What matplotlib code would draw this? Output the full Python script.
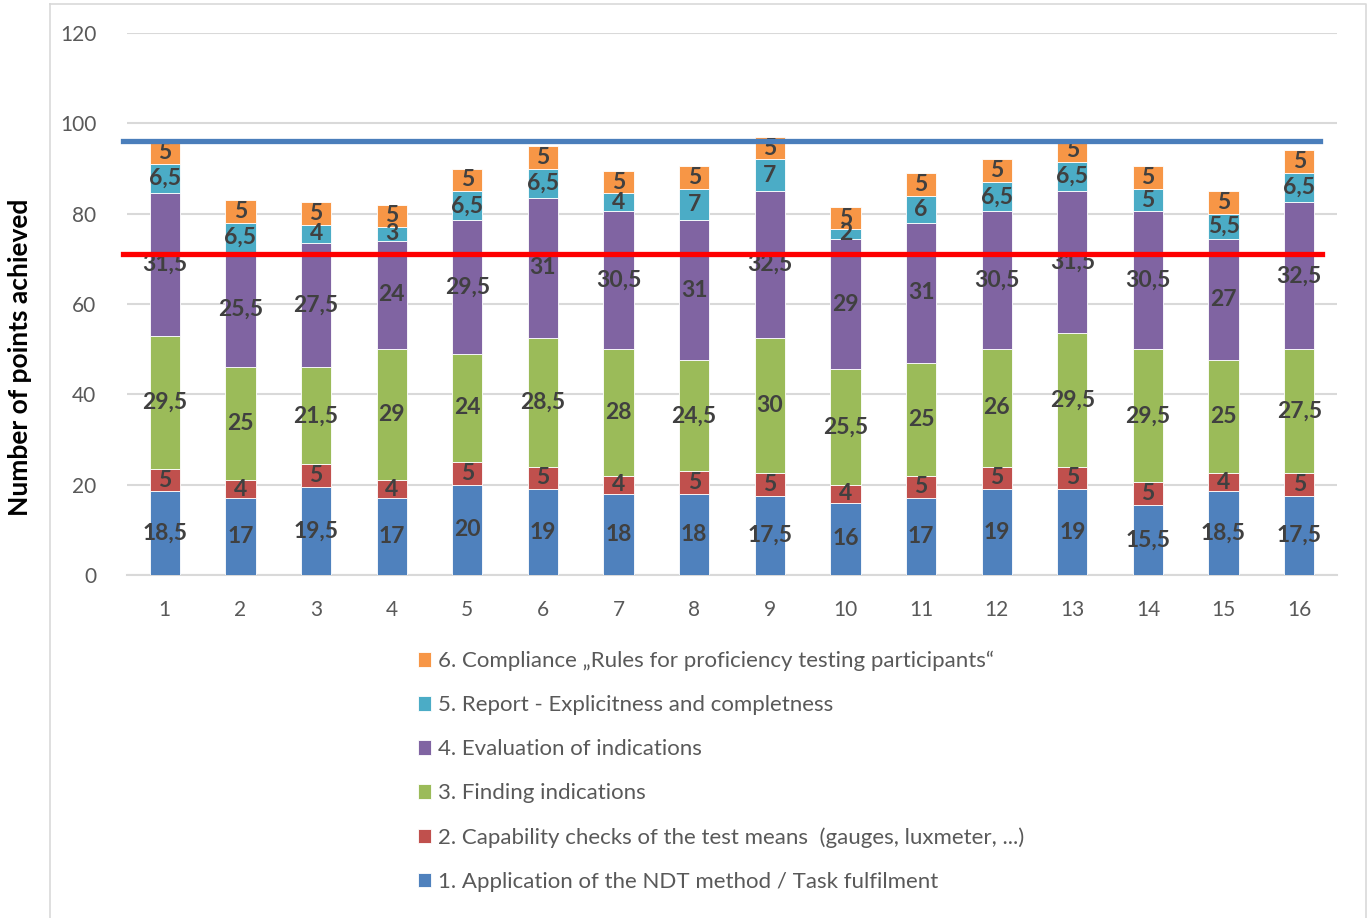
import matplotlib
matplotlib.use("Agg")
import matplotlib.pyplot as plt
from matplotlib.lines import Line2D
import numpy as np

plt.rcParams['font.family'] = ['Lato', 'DejaVu Sans']

categories = [str(i) for i in range(1, 17)]
s1 = [18.5, 17, 19.5, 17, 20, 19, 18, 18, 17.5, 16, 17, 19, 19, 15.5, 18.5, 17.5]
s2 = [5, 4, 5, 4, 5, 5, 4, 5, 5, 4, 5, 5, 5, 5, 4, 5]
s3 = [29.5, 25, 21.5, 29, 24, 28.5, 28, 24.5, 30, 25.5, 25, 26, 29.5, 29.5, 25, 27.5]
s4 = [31.5, 25.5, 27.5, 24, 29.5, 31, 30.5, 31, 32.5, 29, 31, 30.5, 31.5, 30.5, 27, 32.5]
s5 = [6.5, 6.5, 4, 3, 6.5, 6.5, 4, 7, 7, 2, 6, 6.5, 6.5, 5, 5.5, 6.5]
s6 = [5, 5, 5, 5, 5, 5, 5, 5, 5, 5, 5, 5, 5, 5, 5, 5]
series_names = [
    "1. Application of the NDT method / Task fulfilment",
    "2. Capability checks of the test means  (gauges, luxmeter, ...)",
    "3. Finding indications",
    "4. Evaluation of indications",
    "5. Report - Explicitness and completness",
    "6. Compliance \u201eRules for proficiency testing participants\u201c",
]
max_line = 96
pass_line = 71
yticks = [0, 20, 40, 60, 80, 100, 120]

colors = ["#4F81BD", "#C0504D", "#9BBB59", "#8064A2", "#4BACC6", "#F79646"]
series = [s1, s2, s3, s4, s5, s6]

fig = plt.figure(figsize=(13.68, 9.18), dpi=100)
ax = fig.add_axes([127/1368, 1-575/918, (1337-127)/1368, (575-33)/918])

x = np.arange(len(categories))
bottom = np.zeros(len(categories))
handles = []
for vals, col, name in zip(series, colors, series_names):
    v = np.array(vals, dtype=float)
    bars = ax.bar(x, v, 0.4, bottom=bottom, color=col, edgecolor="white", linewidth=0.6, label=name, zorder=3)
    handles.append(bars)
    labels = [("%g" % val).replace(".", ",") for val in v]
    ax.bar_label(bars, labels=labels, label_type="center", fontsize=16.5, fontweight="bold", color="#404040", zorder=5)
    bottom += v

ax.set_ylim(0, 120)
ax.set_xlim(-0.5, len(categories) - 0.5)
ax.set_yticks(yticks)
ax.set_xticks(x)
ax.set_xticklabels(categories)
ax.tick_params(axis="both", length=0, labelsize=15, labelcolor="#595959")
ax.tick_params(axis="x", pad=18)
ax.tick_params(axis="y", pad=22)
ax.yaxis.grid(True, color="#D9D9D9", linewidth=1.5, zorder=0)
ax.set_axisbelow(True)
for sp in ["top", "right", "left"]:
    ax.spines[sp].set_visible(False)
ax.spines["bottom"].set_color("#D9D9D9")
ax.spines["bottom"].set_linewidth(1.5)

# threshold lines
x0 = -0.5 - 4/75.6
ax.plot([x0, 15.5 - 17/75.6], [max_line, max_line], color="#4A7EBB", linewidth=3.8, zorder=6, clip_on=False)
ax.plot([x0, 15.5 - 15/75.6], [pass_line, pass_line], color="#FF0000", linewidth=3.8, zorder=6, clip_on=False)

fig.text(20/1368, 1-357/918, "Number of points achieved", rotation=90, ha="center", va="center",
         fontsize=19, fontweight="bold", color="black")

leg = fig.legend(handles[::-1], series_names[::-1], loc="upper left",
                 bbox_to_anchor=(398/1368, 1-631/918), ncol=1, frameon=False,
                 fontsize=16, labelcolor="#595959", handlelength=0.6, handleheight=0.6,
                 handletextpad=0.3, labelspacing=1.08)

# chart border
bx0, bx1 = 50/1368, 1366/1368
by0, by1 = -0.01, 1-4/918
fig.add_artist(Line2D([bx0, bx1, bx1, bx0, bx0], [by1, by1, by0, by0, by1],
                      transform=fig.transFigure, color="#D9D9D9", linewidth=1.2))

fig.savefig("out.png", dpi=100, facecolor="white")
